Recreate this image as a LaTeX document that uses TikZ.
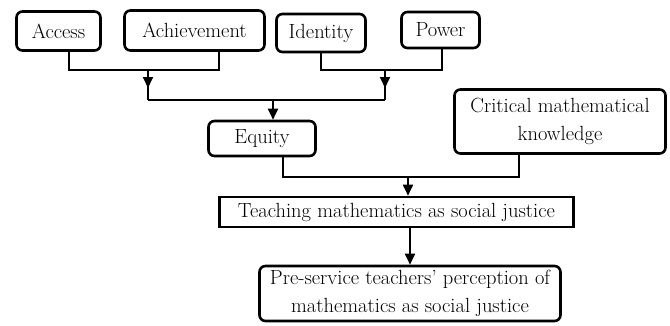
\documentclass[tikz,border=0pt]{standalone}
\usetikzlibrary{arrows.meta}
\begin{document}
\begin{tikzpicture}[x=1pt,y=-1pt,
  box/.style={draw, line width=2.6pt, rounded corners=6pt, inner sep=0pt, align=center,
    font=\fontsize{20.5}{28}\selectfont},
  sbox/.style={box, rounded corners=0pt},
  conn/.style={line width=1.8pt},
  arr/.style={line width=1.8pt, -{Triangle[length=11pt,width=10pt]}}]
\useasboundingbox (0,0) rectangle (670,325);
\node[box, minimum width=84pt, minimum height=39pt] (acc) at (58.5,31) {Access};
\node[box, minimum width=140pt, minimum height=40pt] (ach) at (194.5,30.5) {Achievement};
\node[box, minimum width=89pt, minimum height=38pt] (ide) at (321,33) {Identity};
\node[box, minimum width=78pt, minimum height=36pt] (pow) at (440.5,30) {Power};
\node[box, minimum width=107pt, minimum height=35pt] (eq) at (262,138.5) {Equity};
\node[box, minimum width=211pt, minimum height=64pt] (crit) at (560,121.5) {Critical mathematical\\knowledge};
\node[sbox, minimum width=354pt, minimum height=30pt] (teach) at (396.5,212) {Teaching mathematics as social justice};
\node[box, minimum width=301pt, minimum height=55pt] (pre) at (410,293.5) {Pre-service teachers' perception of\\mathematics as social justice};
\coordinate (j1) at (148,70);
\coordinate (j1b) at (148,100);
\coordinate (j2) at (385,70);
\coordinate (j2b) at (385,100);
\coordinate (j3) at (273,100);
\coordinate (j4) at (408,177);
% Access + Achievement
\draw[conn] ([xshift=10.5]acc.south) |- (j1) -| ([xshift=24.5]ach.south);
\draw[conn] (j1) -- (j1b);
\draw[arr] (j1) -- ([yshift=-18]j1);
% Identity + Power
\draw[conn] (ide.south) |- (j2) -| ([xshift=1.5]pow.south);
\draw[conn] (j2) -- (j2b);
\draw[arr] (j2) -- ([yshift=-18]j2);
% to Equity
\draw[conn] (j1b) -- (j2b);
\draw[arr] (j3) -- (j3 |- eq.north);
% Equity + Critical
\draw[conn] ([xshift=21]eq.south) |- (j4) -| ([xshift=-41]crit.south);
\draw[arr] (j4) -- (j4 |- teach.north);
% Teaching -> Pre-service
\draw[arr] (teach.south -| pre.north) -- (pre.north);
\end{tikzpicture}
\end{document}
